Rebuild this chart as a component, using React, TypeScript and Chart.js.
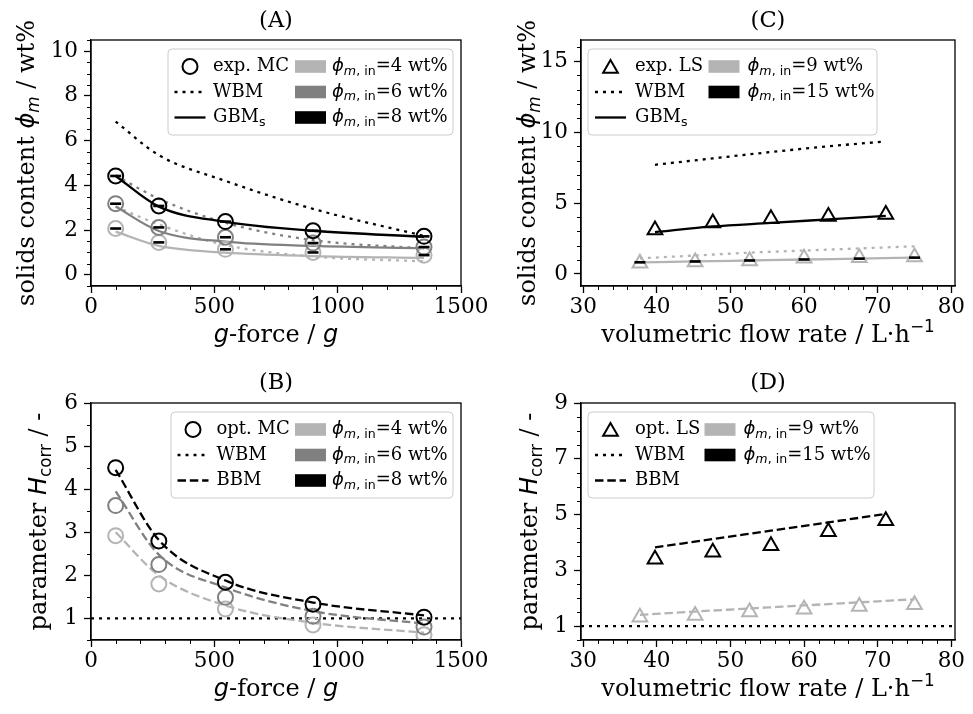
import React, { useEffect, useRef } from 'react';
import { Chart, registerables } from 'chart.js';

Chart.register(...registerables);

// ---------------- DATA ----------------
// Panel A: experimental MC solids content vs g-force
const A_GFORCE = [100, 275, 545, 900, 1350];
const A_EXP_4 = [2.07, 1.45, 1.14, 1.0, 0.88];
const A_EXP_6 = [3.18, 2.12, 1.68, 1.42, 1.24];
const A_EXP_8 = [4.42, 3.08, 2.38, 1.97, 1.72];
const A_GBM_4 = [1.93, 1.29, 0.99, 0.84, 0.76];
const A_GBM_6 = [3.05, 1.96, 1.48, 1.29, 1.19];
const A_GBM_8 = [4.42, 3.05, 2.37, 1.97, 1.7];
const A_WBM_4 = [3.05, 2.25, 1.33, 0.82, 0.6];
const A_WBM_6 = [4.45, 3.4, 2.33, 1.55, 1.18];
const A_WBM_8 = [6.85, 5.35, 4.2, 2.95, 1.74];

// Panel B: optimised MC parameter H_corr vs g-force
const B_GFORCE = [100, 275, 545, 900, 1350];
const B_OPT_4 = [2.92, 1.8, 1.22, 0.85, 0.62];
const B_OPT_6 = [3.62, 2.25, 1.49, 1.05, 0.8];
const B_OPT_8 = [4.5, 2.8, 1.84, 1.33, 1.03];
const B_BBM_4 = [3.0, 2.0, 1.3, 0.9, 0.67];
const B_BBM_6 = [3.95, 2.48, 1.72, 1.17, 0.88];
const B_BBM_8 = [4.45, 2.82, 1.88, 1.37, 1.07];
const B_WBM_X = [0, 1500];
const B_WBM = [1, 1];

// Panel C: experimental LS solids content vs volumetric flow rate
const C_FLOW_9 = [37.7, 45.2, 52.6, 60.0, 67.5, 75.0];
const C_FLOW_15 = [39.75, 47.6, 55.5, 63.3, 71.1];
const C_EXP_9 = [0.75, 0.85, 0.92, 1.1, 1.15, 1.2];
const C_EXP_15 = [3.1, 3.6, 3.9, 4.05, 4.2];
const C_GBM_9 = [0.82, 0.88, 0.95, 1.02, 1.08, 1.15];
const C_GBM_15 = [2.95, 3.35, 3.6, 3.85, 4.1];
const C_WBM_9 = [1.1, 1.3, 1.5, 1.65, 1.8, 1.95];
const C_WBM_15 = [7.7, 8.15, 8.6, 9.0, 9.35];

// Panel D: optimised LS parameter H_corr vs volumetric flow rate
const D_FLOW_9 = [37.7, 45.2, 52.6, 60.0, 67.5, 75.0];
const D_FLOW_15 = [39.75, 47.6, 55.5, 63.3, 71.1];
const D_OPT_9 = [1.32, 1.38, 1.5, 1.6, 1.7, 1.76];
const D_OPT_15 = [3.4, 3.65, 3.88, 4.38, 4.78];
const D_BBM_9 = [1.4, 1.52, 1.63, 1.74, 1.85, 1.96];
const D_BBM_15 = [3.82, 4.12, 4.42, 4.72, 5.02];
const D_WBM_X = [29.7, 80.5];
const D_WBM = [1, 1];

// Tick labels
const AB_X_TICKS = [0, 500, 1000, 1500];
const CD_X_TICKS = [30, 40, 50, 60, 70, 80];
const A_Y_TICKS = [0, 2, 4, 6, 8, 10];
const B_Y_TICKS = [1, 2, 3, 4, 5, 6];
const C_Y_TICKS = [0, 5, 10, 15];
const D_Y_TICKS = [1, 3, 5, 7, 9];

// ---------------- STYLE ----------------
const BLACK = '#000000';
const MID = '#808080';
const LIGHT = '#b4b4b4';
const SERIF = '"DejaVu Serif", serif';
const SANS = '"DejaVu Sans", sans-serif';
const DOT = [3, 5];
const DASH = [8.5, 3.8];
const TICK_SIZE = 21.5;
const LABEL_SIZE = 24;
const TITLE_SIZE = 22.5;
const LEG_SIZE = 18;

type Seg = { t: string; it?: boolean; sans?: boolean; sub?: boolean; sup?: boolean };

function fontOf(s: Seg, size: number) {
  const sz = s.sub || s.sup ? size * 0.7 : size;
  return `${s.it ? 'italic ' : ''}${sz}px ${s.sans ? SANS : SERIF}`;
}
function richWidth(ctx: CanvasRenderingContext2D, segs: Seg[], size: number) {
  let w = 0;
  for (const s of segs) {
    ctx.font = fontOf(s, size);
    w += ctx.measureText(s.t).width;
  }
  return w;
}
function drawRich(ctx: CanvasRenderingContext2D, segs: Seg[], size: number, x: number, y: number, align: 'left' | 'center') {
  const w = richWidth(ctx, segs, size);
  let cx = align === 'center' ? x - w / 2 : x;
  ctx.textAlign = 'left';
  ctx.textBaseline = 'alphabetic';
  for (const s of segs) {
    ctx.font = fontOf(s, size);
    const dy = s.sub ? size * 0.2 : s.sup ? -size * 0.42 : 0;
    ctx.fillText(s.t, cx, y + dy);
    cx += ctx.measureText(s.t).width;
  }
}

const PHI = (n: number): Seg[] => [
  { t: 'ϕ', it: true, sans: true },
  { t: 'm', it: true, sans: true, sub: true },
  { t: ', in', sans: true, sub: true },
  { t: `=${n} wt%` },
];
const Y_SOLIDS: Seg[] = [
  { t: 'solids content ' },
  { t: 'ϕ', it: true, sans: true },
  { t: 'm', it: true, sans: true, sub: true },
  { t: ' / wt%' },
];
const Y_HCORR: Seg[] = [
  { t: 'parameter ' },
  { t: 'H', it: true, sans: true },
  { t: 'corr', sans: true, sub: true },
  { t: ' / -' },
];
const X_G: Seg[] = [{ t: 'g', it: true, sans: true }, { t: '-force / ' }, { t: 'g', it: true, sans: true }];
const X_FLOW: Seg[] = [{ t: 'volumetric flow rate / L·h' }, { t: '−1', sans: true, sup: true }];
const GBMS: Seg[] = [{ t: 'GBM' }, { t: 's', sans: true, sub: true }];

function minorTicks(min: number, max: number, step: number, majors: number[]) {
  const out: number[] = [];
  const start = Math.ceil(min / step - 1e-9);
  for (let i = start; i * step <= max + 1e-9 && out.length < 500; i++) {
    const v = +(i * step).toFixed(6);
    if (!majors.some((m) => Math.abs(m - v) < 1e-9)) out.push(v);
  }
  return out;
}

const pts = (xs: number[], ys: number[]) => xs.map((x, i) => ({ x, y: ys[i] }));
function markers(xs: number[], ys: number[], color: string, style: string, radius: number) {
  return {
    data: pts(xs, ys), showLine: false, pointStyle: style, pointRadius: radius, pointHoverRadius: radius,
    pointBorderWidth: 2, pointBorderColor: color, pointBackgroundColor: 'rgba(0,0,0,0)',
    borderColor: color, backgroundColor: 'rgba(0,0,0,0)',
  };
}
function bars(xs: number[], ys: number[]) {
  return {
    data: pts(xs, ys), showLine: false, pointStyle: 'line', pointRadius: 5.5, pointHoverRadius: 5.5,
    pointBorderWidth: 2.6, pointBorderColor: BLACK, borderColor: BLACK,
  };
}
function curve(xs: number[], ys: number[], color: string, dash: number[]) {
  return {
    data: pts(xs, ys), showLine: true, pointRadius: 0, pointHoverRadius: 0, borderWidth: 2.3,
    borderColor: color, borderDash: dash, cubicInterpolationMode: 'monotone', fill: false,
  };
}

type LegItem = { kind: string; color?: string; label: Seg[]; hx: number; tx: number; row: number };
type Legend = { x: number; y: number; w: number; h: number; rows: number[]; items: LegItem[] };

type Panel = {
  cx: number; cy: number; cw: number; ch: number;
  L: number; T: number; R: number; B: number;
  xMin: number; xMax: number; xTicks: number[]; xMinor: number[];
  yMin: number; yMax: number; yTicks: number[]; yMinor: number[];
  title: string; titleY: number; xlabel: Seg[]; xlabelY: number; ylabel: Seg[]; ylabelX: number;
  legend: Legend; datasets: any[];
};

const rowsAt = (top: number) => [top + 17.5, top + 43, top + 68.5];

const PANELS: Panel[] = [
  {
    cx: 0, cy: 0, cw: 487, ch: 357, L: 91, T: 40, R: 461, B: 286,
    xMin: 0, xMax: 1500, xTicks: AB_X_TICKS, xMinor: minorTicks(0, 1500, 100, AB_X_TICKS),
    yMin: -0.5, yMax: 10.5, yTicks: A_Y_TICKS, yMinor: minorTicks(-0.5, 10.5, 0.5, A_Y_TICKS),
    title: '(A)', titleY: 27, xlabel: X_G, xlabelY: 342, ylabel: Y_SOLIDS, ylabelX: 34,
    legend: {
      x: 168, y: 49, w: 285, h: 86, rows: rowsAt(49),
      items: [
        { kind: 'circle', label: [{ t: 'exp. MC' }], hx: 174.5, tx: 213, row: 0 },
        { kind: 'dotted', label: [{ t: 'WBM' }], hx: 174.5, tx: 213, row: 1 },
        { kind: 'solid', label: GBMS, hx: 174.5, tx: 213, row: 2 },
        { kind: 'patch', color: LIGHT, label: PHI(4), hx: 295, tx: 332, row: 0 },
        { kind: 'patch', color: MID, label: PHI(6), hx: 295, tx: 332, row: 1 },
        { kind: 'patch', color: BLACK, label: PHI(8), hx: 295, tx: 332, row: 2 },
      ],
    },
    datasets: [
      bars(A_GFORCE, A_EXP_8), bars(A_GFORCE, A_EXP_6), bars(A_GFORCE, A_EXP_4),
      markers(A_GFORCE, A_EXP_8, BLACK, 'circle', 7.5),
      markers(A_GFORCE, A_EXP_6, MID, 'circle', 7.5),
      markers(A_GFORCE, A_EXP_4, LIGHT, 'circle', 7.5),
      curve(A_GFORCE, A_GBM_8, BLACK, []),
      curve(A_GFORCE, A_GBM_6, MID, []),
      curve(A_GFORCE, A_GBM_4, LIGHT, []),
      curve(A_GFORCE, A_WBM_8, BLACK, DOT),
      curve(A_GFORCE, A_WBM_6, MID, DOT),
      curve(A_GFORCE, A_WBM_4, LIGHT, DOT),
    ],
  },
  {
    cx: 487, cy: 0, cw: 486, ch: 357, L: 581, T: 40, R: 955, B: 286,
    xMin: 29.7, xMax: 80.5, xTicks: CD_X_TICKS, xMinor: minorTicks(29.7, 80.5, 2, CD_X_TICKS),
    yMin: -0.85, yMax: 16.5, yTicks: C_Y_TICKS, yMinor: minorTicks(-0.85, 16.5, 1, C_Y_TICKS),
    title: '(C)', titleY: 27, xlabel: X_FLOW, xlabelY: 342, ylabel: Y_SOLIDS, ylabelX: 535,
    legend: {
      x: 588, y: 49, w: 289, h: 86, rows: rowsAt(49),
      items: [
        { kind: 'triangle', label: [{ t: 'exp. LS' }], hx: 595, tx: 635, row: 0 },
        { kind: 'dotted', label: [{ t: 'WBM' }], hx: 595, tx: 635, row: 1 },
        { kind: 'solid', label: GBMS, hx: 595, tx: 635, row: 2 },
        { kind: 'patch', color: LIGHT, label: PHI(9), hx: 708.5, tx: 747.5, row: 0 },
        { kind: 'patch', color: BLACK, label: PHI(15), hx: 708.5, tx: 747.5, row: 1 },
      ],
    },
    datasets: [
      bars(C_FLOW_9, C_GBM_9),
      markers(C_FLOW_15, C_EXP_15, BLACK, 'triangle', 8.5),
      markers(C_FLOW_9, C_EXP_9, LIGHT, 'triangle', 8.5),
      curve(C_FLOW_15, C_GBM_15, BLACK, []),
      curve(C_FLOW_9, C_GBM_9, LIGHT, []),
      curve(C_FLOW_15, C_WBM_15, BLACK, DOT),
      curve(C_FLOW_9, C_WBM_9, LIGHT, DOT),
    ],
  },
  {
    cx: 0, cy: 357, cw: 487, ch: 357, L: 91, T: 403, R: 461, B: 640,
    xMin: 0, xMax: 1500, xTicks: AB_X_TICKS, xMinor: minorTicks(0, 1500, 100, AB_X_TICKS),
    yMin: 0.5, yMax: 6, yTicks: B_Y_TICKS, yMinor: minorTicks(0.5, 6, 0.5, B_Y_TICKS),
    title: '(B)', titleY: 389, xlabel: X_G, xlabelY: 696, ylabel: Y_HCORR, ylabelX: 46,
    legend: {
      x: 171, y: 412, w: 282, h: 86, rows: rowsAt(412),
      items: [
        { kind: 'circle', label: [{ t: 'opt. MC' }], hx: 177.5, tx: 216.5, row: 0 },
        { kind: 'dotted', label: [{ t: 'WBM' }], hx: 177.5, tx: 216.5, row: 1 },
        { kind: 'dashed', label: [{ t: 'BBM' }], hx: 177.5, tx: 216.5, row: 2 },
        { kind: 'patch', color: LIGHT, label: PHI(4), hx: 295, tx: 332, row: 0 },
        { kind: 'patch', color: MID, label: PHI(6), hx: 295, tx: 332, row: 1 },
        { kind: 'patch', color: BLACK, label: PHI(8), hx: 295, tx: 332, row: 2 },
      ],
    },
    datasets: [
      markers(B_GFORCE, B_OPT_8, BLACK, 'circle', 7.5),
      markers(B_GFORCE, B_OPT_6, MID, 'circle', 7.5),
      markers(B_GFORCE, B_OPT_4, LIGHT, 'circle', 7.5),
      curve(B_GFORCE, B_BBM_8, BLACK, DASH),
      curve(B_GFORCE, B_BBM_6, MID, DASH),
      curve(B_GFORCE, B_BBM_4, LIGHT, DASH),
      curve(B_WBM_X, B_WBM, BLACK, DOT),
    ],
  },
  {
    cx: 487, cy: 357, cw: 486, ch: 357, L: 581, T: 403, R: 955, B: 640,
    xMin: 29.7, xMax: 80.5, xTicks: CD_X_TICKS, xMinor: minorTicks(29.7, 80.5, 2, CD_X_TICKS),
    yMin: 0.5, yMax: 9, yTicks: D_Y_TICKS, yMinor: minorTicks(0.5, 9, 0.5, D_Y_TICKS),
    title: '(D)', titleY: 389, xlabel: X_FLOW, xlabelY: 696, ylabel: Y_HCORR, ylabelX: 537,
    legend: {
      x: 588, y: 412, w: 286, h: 86, rows: rowsAt(412),
      items: [
        { kind: 'triangle', label: [{ t: 'opt. LS' }], hx: 595, tx: 635, row: 0 },
        { kind: 'dotted', label: [{ t: 'WBM' }], hx: 595, tx: 635, row: 1 },
        { kind: 'dashed', label: [{ t: 'BBM' }], hx: 595, tx: 635, row: 2 },
        { kind: 'patch', color: LIGHT, label: PHI(9), hx: 704.5, tx: 743.5, row: 0 },
        { kind: 'patch', color: BLACK, label: PHI(15), hx: 704.5, tx: 743.5, row: 1 },
      ],
    },
    datasets: [
      markers(D_FLOW_15, D_OPT_15, BLACK, 'triangle', 8.5),
      markers(D_FLOW_9, D_OPT_9, LIGHT, 'triangle', 8.5),
      curve(D_FLOW_15, D_BBM_15, BLACK, DASH),
      curve(D_FLOW_9, D_BBM_9, LIGHT, DASH),
      curve(D_WBM_X, D_WBM, BLACK, DOT),
    ],
  },
];

function drawLegend(ctx: CanvasRenderingContext2D, lg: Legend, ox: number, oy: number) {
  const x = lg.x - ox, y = lg.y - oy, w = lg.w, h = lg.h, r = 4;
  ctx.beginPath();
  ctx.moveTo(x + r, y);
  ctx.arcTo(x + w, y, x + w, y + h, r);
  ctx.arcTo(x + w, y + h, x, y + h, r);
  ctx.arcTo(x, y + h, x, y, r);
  ctx.arcTo(x, y, x + w, y, r);
  ctx.closePath();
  ctx.fillStyle = 'rgba(255,255,255,0.8)';
  ctx.fill();
  ctx.strokeStyle = '#cccccc';
  ctx.lineWidth = 1;
  ctx.setLineDash([]);
  ctx.stroke();
  const HL = 31;
  for (const it of lg.items) {
    const yc = lg.rows[it.row] - oy;
    const hx = it.hx - ox;
    ctx.setLineDash([]);
    ctx.strokeStyle = BLACK;
    ctx.lineWidth = 2;
    if (it.kind === 'circle') {
      ctx.beginPath();
      ctx.arc(hx + HL / 2, yc, 7.5, 0, Math.PI * 2);
      ctx.stroke();
    } else if (it.kind === 'triangle') {
      const rr = 8.5, cxp = hx + HL / 2, cyp = yc + 2;
      ctx.beginPath();
      ctx.moveTo(cxp, cyp - rr);
      ctx.lineTo(cxp + rr * 0.866, cyp + rr / 2);
      ctx.lineTo(cxp - rr * 0.866, cyp + rr / 2);
      ctx.closePath();
      ctx.stroke();
    } else if (it.kind === 'patch') {
      ctx.fillStyle = it.color || BLACK;
      ctx.fillRect(hx, yc - 6.3, HL, 12.6);
    } else {
      ctx.lineWidth = 2.3;
      ctx.setLineDash(it.kind === 'dotted' ? DOT : it.kind === 'dashed' ? DASH : []);
      ctx.beginPath();
      ctx.moveTo(hx, yc);
      ctx.lineTo(hx + HL, yc);
      ctx.stroke();
      ctx.setLineDash([]);
    }
    ctx.fillStyle = '#000';
    drawRich(ctx, it.label, LEG_SIZE, it.tx - ox, yc + 4.7, 'left');
  }
}

function decorate(chart: any, p: Panel) {
  const ctx: CanvasRenderingContext2D = chart.ctx;
  const { left, right, top, bottom } = chart.chartArea;
  const ox = p.cx, oy = p.cy;
  const xs = chart.scales.x, ys = chart.scales.y;
  ctx.save();
  ctx.setLineDash([]);
  ctx.strokeStyle = '#000';
  // minor ticks
  ctx.lineWidth = 1;
  ctx.beginPath();
  for (const v of p.xMinor) {
    const px = Math.round(xs.getPixelForValue(v)) + 0.5;
    ctx.moveTo(px, bottom);
    ctx.lineTo(px, bottom + 4);
  }
  for (const v of p.yMinor) {
    const py = Math.round(ys.getPixelForValue(v)) + 0.5;
    ctx.moveTo(left, py);
    ctx.lineTo(left - 4, py);
  }
  ctx.stroke();
  // spines
  ctx.lineWidth = 1.3;
  ctx.strokeRect(left, top, right - left, bottom - top);
  // title
  ctx.fillStyle = '#000';
  ctx.font = `${TITLE_SIZE}px ${SERIF}`;
  ctx.textAlign = 'center';
  ctx.textBaseline = 'alphabetic';
  ctx.fillText(p.title, (left + right) / 2, p.titleY - oy);
  // axis labels
  drawRich(ctx, p.xlabel, LABEL_SIZE, (left + right) / 2, p.xlabelY - oy, 'center');
  ctx.save();
  ctx.translate(p.ylabelX - ox, (top + bottom) / 2);
  ctx.rotate(-Math.PI / 2);
  drawRich(ctx, p.ylabel, LABEL_SIZE, 0, 0, 'center');
  ctx.restore();
  // legend
  drawLegend(ctx, p.legend, ox, oy);
  ctx.restore();
}

function PanelChart({ p }: { p: Panel }) {
  const ref = useRef<HTMLCanvasElement | null>(null);
  useEffect(() => {
    if (!ref.current) return;
    const tickFont = { family: SERIF, size: TICK_SIZE };
    const chart = new Chart(ref.current, {
      type: 'scatter',
      data: { datasets: p.datasets as any },
      options: {
        animation: false,
        responsive: false,
        devicePixelRatio: 1,
        events: [],
        layout: { padding: { left: 0, top: p.T - p.cy, right: p.cx + p.cw - p.R, bottom: 0 } },
        plugins: { legend: { display: false }, tooltip: { enabled: false }, title: { display: false } },
        scales: {
          x: {
            type: 'linear', min: p.xMin, max: p.xMax,
            afterBuildTicks: (s: any) => { s.ticks = p.xTicks.map((v) => ({ value: v })); },
            afterFit: (s: any) => { s.height = p.cy + p.ch - p.B; s.paddingLeft = 0; s.paddingRight = 0; },
            ticks: { autoSkip: false, maxRotation: 0, minRotation: 0, color: '#000', font: tickFont, padding: 2, callback: (v: any) => String(v) },
            grid: { display: true, drawOnChartArea: false, drawTicks: true, tickLength: 7, tickWidth: 1.3, tickColor: '#000' },
            border: { display: true, color: '#000', width: 1.3 },
          },
          y: {
            type: 'linear', min: p.yMin, max: p.yMax,
            afterBuildTicks: (s: any) => { s.ticks = p.yTicks.map((v) => ({ value: v })); },
            afterFit: (s: any) => { s.width = p.L - p.cx; s.paddingTop = 0; s.paddingBottom = 0; },
            ticks: { autoSkip: false, color: '#000', font: tickFont, padding: 6, callback: (v: any) => String(v) },
            grid: { display: true, drawOnChartArea: false, drawTicks: true, tickLength: 7, tickWidth: 1.3, tickColor: '#000' },
            border: { display: true, color: '#000', width: 1.3 },
          },
        },
      } as any,
      plugins: [{ id: 'deco', afterDraw: (c: any) => decorate(c, p) }],
    });
    return () => chart.destroy();
  }, [p]);
  return (
    <canvas
      ref={ref}
      width={p.cw}
      height={p.ch}
      style={{ position: 'absolute', left: p.cx, top: p.cy, width: p.cw, height: p.ch }}
    />
  );
}

export default function App() {
  return (
    <div style={{ position: 'absolute', left: 0, top: 0, width: 973, height: 714, background: '#fff' }}>
      {PANELS.map((p, i) => (
        <PanelChart key={i} p={p} />
      ))}
    </div>
  );
}
